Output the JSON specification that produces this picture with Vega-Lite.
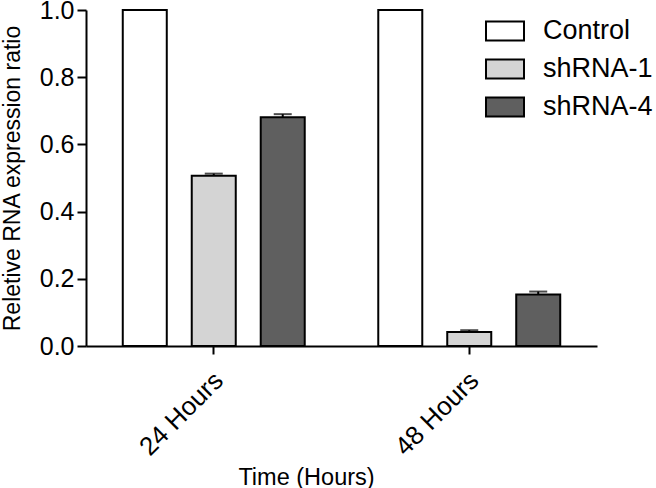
{
  "$schema": "https://vega.github.io/schema/vega-lite/v6.json",
  "width": 511,
  "height": 336,
  "autosize": {"type": "none"},
  "padding": {"left": 86, "top": 10, "right": 59, "bottom": 142},
  "background": "white",
  "config": {
    "font": "Liberation Sans",
    "view": {"stroke": null},
    "axis": {"grid": false, "domainColor": "black", "domainWidth": 2, "tickColor": "black", "tickWidth": 2, "labelColor": "black", "titleColor": "black", "titleFontWeight": "normal", "labelFont": "Liberation Sans", "titleFont": "Liberation Sans"}
  },
  "data": {
    "values": [
      {"time": "24 Hours", "group": "Control", "value": 1.0, "err": 0},
      {"time": "24 Hours", "group": "shRNA-1", "value": 0.507, "err": 0.006},
      {"time": "24 Hours", "group": "shRNA-4", "value": 0.681, "err": 0.009},
      {"time": "48 Hours", "group": "Control", "value": 1.0, "err": 0},
      {"time": "48 Hours", "group": "shRNA-1", "value": 0.042, "err": 0.005},
      {"time": "48 Hours", "group": "shRNA-4", "value": 0.153, "err": 0.009}
    ]
  },
  "encoding": {
    "x": {
      "field": "time", "type": "nominal",
      "scale": {"paddingInner": 0, "paddingOuter": 0},
      "axis": {
        "title": "Time (Hours)", "titleFontSize": 23.5, "titleX": 220, "titleY": 138, "titleBaseline": "alphabetic",
        "labelAngle": -45, "labelFontSize": 26, "tickSize": 8, "labelPadding": 13, "labelOffset": -4
      }
    },
    "xOffset": {"field": "group", "type": "nominal", "scale": {"paddingInner": 0.362, "paddingOuter": 0.533}}
  },
  "layer": [
    {
      "mark": {"type": "bar", "stroke": "black", "strokeWidth": 2},
      "encoding": {
        "y": {
          "field": "value", "type": "quantitative",
          "scale": {"domain": [0, 1], "nice": false},
          "axis": {
            "title": "Reletive RNA expression ratio", "titleFontSize": 23, "titleX": -67, "titleY": 168, "titleBaseline": "alphabetic",
            "values": [0, 0.2, 0.4, 0.6, 0.8, 1.0], "format": ".1f", "labelFontSize": 25, "tickSize": 9, "labelPadding": 3
          }
        },
        "fill": {
          "field": "group", "type": "nominal",
          "scale": {"domain": ["Control", "shRNA-1", "shRNA-4"], "range": ["#ffffff", "#d4d4d4", "#5f5f5f"]},
          "legend": {
            "title": null, "orient": "none", "legendX": 399, "legendY": 1,
            "symbolType": "M-1,-0.5H1V0.5H-1Z", "symbolSize": 1444, "symbolStrokeColor": "black", "symbolStrokeWidth": 2, "symbolOpacity": 1,
            "labelFontSize": 27, "labelColor": "black", "labelOffset": 18, "rowPadding": 4, "labelFont": "Liberation Sans"
          }
        }
      }
    },
    {
      "transform": [{"filter": "datum.err > 0"}, {"calculate": "datum.value + datum.err", "as": "hi"}],
      "mark": {"type": "rule", "color": "black", "strokeWidth": 2},
      "encoding": {"y": {"field": "value", "type": "quantitative"}, "y2": {"field": "hi"}}
    },
    {
      "transform": [{"filter": "datum.err > 0"}, {"calculate": "datum.value + datum.err", "as": "hi"}],
      "mark": {"type": "tick", "color": "black", "size": 18, "thickness": 2, "orient": "horizontal"},
      "encoding": {"y": {"field": "hi", "type": "quantitative"}}
    }
  ]
}
